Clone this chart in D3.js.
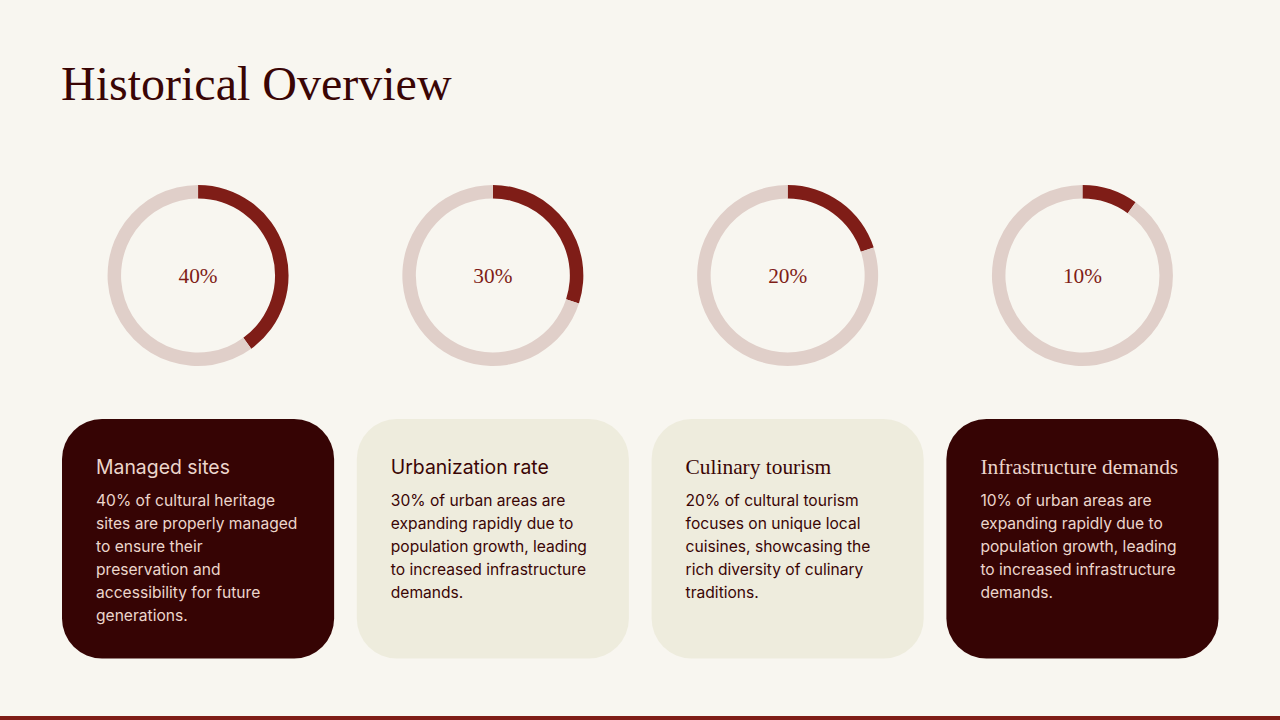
<!DOCTYPE html>
<html>
<head>
<meta charset="utf-8">
<script src="https://cdn.jsdelivr.net/npm/d3@7"></script>
<style>
  html, body { margin: 0; padding: 0; background: #f8f6f0; }
  svg { display: block; }
  .serif { font-family: "Liberation Serif", serif; }
  .sans { font-family: Inter, "Noto Sans", sans-serif; }
</style>
</head>
<body>
<div id="chart"></div>
<script>
// Data
var pageTitle = "Historical Overview";
var categories = ["Managed sites", "Urbanization rate", "Culinary tourism", "Infrastructure demands"];
var percents = [40, 30, 20, 10];
var descriptions = [
    ["40% of cultural heritage", "sites are properly managed", "to ensure their", "preservation and", "accessibility for future", "generations."],
    ["30% of urban areas are", "expanding rapidly due to", "population growth, leading", "to increased infrastructure", "demands."],
    ["20% of cultural tourism", "focuses on unique local", "cuisines, showcasing the", "rich diversity of culinary", "traditions."],
    ["10% of urban areas are", "expanding rapidly due to", "population growth, leading", "to increased infrastructure", "demands."]
];

var svgWidth = 1280;
var svgHeight = 720;

var svg = d3.select("#chart")
    .append("svg")
    .attr("width", svgWidth)
    .attr("height", svgHeight);

svg.append("rect")
    .attr("width", svgWidth)
    .attr("height", svgHeight)
    .attr("fill", "#f8f6f0");

svg.append("text")
    .attr("class", "serif")
    .attr("x", 61)
    .attr("y", 100)
    .attr("font-size", 48)
    .attr("fill", "#3a0505")
    .text(pageTitle);

// one column per category
var xScale = d3.scaleBand()
    .domain(categories)
    .range([62, 1218.5])
    .paddingInner(0.0769);

var pie = d3.pie().sort(null);
var arc = d3.arc().innerRadius(77).outerRadius(90.5);

var columns = svg.selectAll("g.column")
    .data(categories)
    .enter()
    .append("g")
    .attr("class", "column")
    .attr("transform", d => `translate(${xScale(d)}, 0)`);

columns.each(function (name, i) {
    var col = d3.select(this);
    var dark = i === 0 || i === 3;
    var textColor = dark ? "#ecd6cc" : "#3a0505";

    // ring
    var ring = col.append("g")
        .attr("transform", `translate(${xScale.bandwidth() / 2}, 275.5)`);

    ring.selectAll("path")
        .data(pie([percents[i], 100 - percents[i]]))
        .enter()
        .append("path")
        .attr("d", arc)
        .attr("fill", (d, k) => k === 0 ? "#7f1d17" : "#e0cfc9");

    ring.append("text")
        .attr("class", "serif")
        .attr("text-anchor", "middle")
        .attr("y", 7)
        .attr("font-size", 21.3)
        .attr("fill", "#7f1d17")
        .text(percents[i] + "%");

    // card
    col.append("rect")
        .attr("y", 419)
        .attr("width", xScale.bandwidth())
        .attr("height", 239.5)
        .attr("rx", 40)
        .attr("fill", dark ? "#360404" : "#eeecdd");

    col.append("text")
        .attr("class", i < 2 ? "sans" : "serif")
        .attr("x", 34)
        .attr("y", 474)
        .attr("font-size", i < 2 ? 19.4 : 21.4)
        .attr("fill", textColor)
        .text(name);

    col.selectAll("text.line")
        .data(descriptions[i])
        .enter()
        .append("text")
        .attr("class", "line sans")
        .attr("x", 34)
        .attr("y", (d, k) => 506 + k * 23)
        .attr("font-size", 15.6)
        .attr("fill", textColor)
        .text(d => d);
});

// bottom band
svg.append("rect")
    .attr("y", 716)
    .attr("width", svgWidth)
    .attr("height", 4)
    .attr("fill", "#7f1d17");
</script>
</body>
</html>
